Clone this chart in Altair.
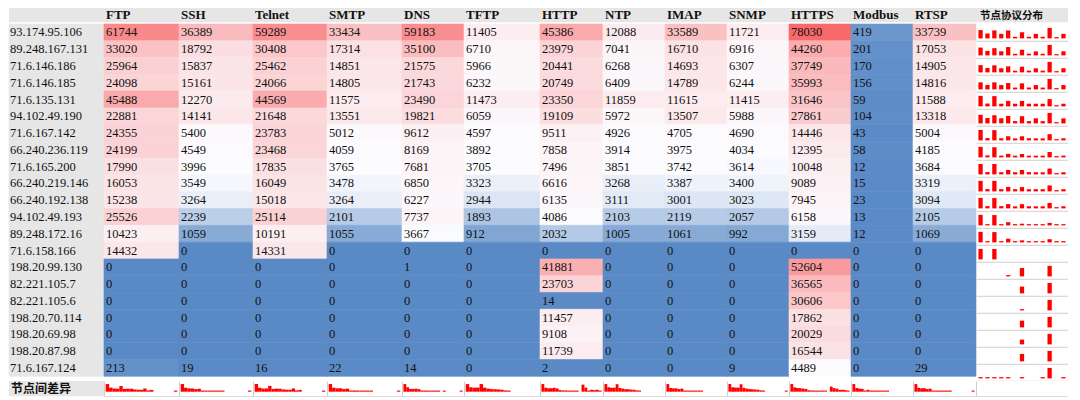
import altair as alt
import numpy as np
import pandas as pd

# ---------------- data ----------------
ips = ["93.174.95.106", "89.248.167.131", "71.6.146.186", "71.6.146.185", "71.6.135.131",
       "94.102.49.190", "71.6.167.142", "66.240.236.119", "71.6.165.200", "66.240.219.146",
       "66.240.192.138", "94.102.49.193", "89.248.172.16", "71.6.158.166", "198.20.99.130",
       "82.221.105.7", "82.221.105.6", "198.20.70.114", "198.20.69.98", "198.20.87.98",
       "71.6.167.124"]
protocols = ["FTP", "SSH", "Telnet", "SMTP", "DNS", "TFTP", "HTTP", "NTP", "IMAP",
             "SNMP", "HTTPS", "Modbus", "RTSP"]

ftp = [61744, 33020, 25964, 24098, 45488, 22881, 24355, 24199, 17990, 16053, 15238, 25526, 10423, 14432, 0, 0, 0, 0, 0, 0, 213]
ssh = [36389, 18792, 15837, 15161, 12270, 14141, 5400, 4549, 3996, 3549, 3264, 2239, 1059, 0, 0, 0, 0, 0, 0, 0, 19]
telnet = [59289, 30408, 25462, 24066, 44569, 21648, 23783, 23468, 17835, 16049, 15018, 25114, 10191, 14331, 0, 0, 0, 0, 0, 0, 16]
smtp = [33434, 17314, 14851, 14805, 11575, 13551, 5012, 4059, 3765, 3478, 3264, 2101, 1055, 0, 0, 0, 0, 0, 0, 0, 22]
dns = [59183, 35100, 21575, 21743, 23490, 19821, 9612, 8169, 7681, 6850, 6227, 7737, 3667, 0, 1, 0, 0, 0, 0, 0, 14]
tftp = [11405, 6710, 5966, 6232, 11473, 6059, 4597, 3892, 3705, 3323, 2944, 1893, 912, 0, 0, 0, 0, 0, 0, 0, 0]
http = [45386, 23979, 20441, 20749, 23350, 19109, 9511, 7858, 7496, 6616, 6135, 4086, 2032, 0, 41881, 23703, 14, 11457, 9108, 11739, 2]
ntp = [12088, 7041, 6268, 6409, 11859, 5972, 4926, 3914, 3851, 3268, 3111, 2103, 1005, 0, 0, 0, 0, 0, 0, 0, 0]
imap = [33589, 16710, 14693, 14789, 11615, 13507, 4705, 3975, 3742, 3387, 3001, 2119, 1061, 0, 0, 0, 0, 0, 0, 0, 0]
snmp = [11721, 6916, 6307, 6244, 11415, 5988, 4690, 4034, 3614, 3400, 3023, 2057, 992, 0, 0, 0, 0, 0, 0, 0, 9]
https = [78030, 44260, 37749, 35993, 31646, 27861, 14446, 12395, 10048, 9089, 7945, 6158, 3159, 0, 52604, 36565, 30606, 17862, 20029, 16544, 4489]
modbus = [419, 201, 170, 156, 59, 104, 43, 58, 12, 15, 23, 13, 12, 0, 0, 0, 0, 0, 0, 0, 0]
rtsp = [33739, 17053, 14905, 14816, 11588, 13318, 5004, 4185, 3684, 3319, 3094, 2105, 1069, 0, 0, 0, 0, 0, 0, 0, 29]

spark_header = "节点协议分布"
footer_label = "节点间差异"
header_names = [""] + protocols + [spark_header]

series = [ftp, ssh, telnet, smtp, dns, tftp, http, ntp, imap, snmp, https, modbus, rtsp]
df = pd.DataFrame([
    {"ip": ip, "protocol": p, "value": v}
    for p, vals in zip(protocols, series) for ip, v in zip(ips, vals)
])
head_df = pd.DataFrame({"name": header_names})
foot_df = pd.DataFrame({"name": [footer_label]})

all_vals = np.concatenate([np.array(s) for s in series])
mid_val = float(np.median(all_vals))
max_val = float(all_vals.max())

# ---------------- layout / style ----------------
SX, SY = 0.98, 0.955
label_w = round(97 * SX)
col_w = [round(w * SX) for w in [77, 75, 76, 77, 63, 78, 64, 63, 63, 63, 63, 63, 64]]
spark_w = round(94 * SX)
head_h = 15 * SY
row_h = 17.57 * SY
foot_h = 16 * SY
body_h = row_h * len(ips)

GRAY = "#E6E6E6"
GRID = "#CFCFCF"
RED = "#FF0000"
SERIF = "Liberation Serif"
CJK = "Noto Sans CJK SC"
TXT = "#111111"

band0 = alt.Scale(paddingInner=0, paddingOuter=0)
color_scale = alt.Scale(type="linear", domain=[0, mid_val, max_val],
                        range=["#5A8AC6", "#FCFCFF", "#F8696B"], interpolate="rgb")
line_axis = alt.Axis(labels=False, ticks=False, title=None, grid=False,
                     domainColor=GRID, domainWidth=1)

# ---------------- header row ----------------
def header_panel(name, w):
    base = alt.Chart(head_df).transform_filter(alt.datum.name == name)
    bg = base.mark_rect(color=GRAY).encode(x=alt.X("name:N", axis=None, scale=band0))
    if name == "":
        return bg.properties(width=w, height=head_h)
    if name == spark_header:
        txt = base.mark_text(align="left", baseline="middle", dx=4, dy=0.5, font=CJK,
                             fontSize=10.5, fontWeight="bold", color=TXT)
    else:
        txt = base.mark_text(align="left", baseline="middle", dx=2, font=SERIF,
                             fontSize=13, fontWeight="bold", color=TXT)
    txt = txt.encode(x=alt.X("name:N", axis=None, scale=band0, bandPosition=0),
                     text="name:N")
    return alt.layer(bg, txt).properties(width=w, height=head_h)

header_row = alt.hconcat(
    *([header_panel("", label_w)]
      + [header_panel(p, w) for p, w in zip(protocols, col_w)]
      + [header_panel(spark_header, spark_w)]),
    spacing=0, bounds="flush")

# ---------------- body row ----------------
y_ip = alt.Y("ip:N", sort=ips, axis=None, scale=band0)

label_base = alt.Chart(df).transform_filter(alt.datum.protocol == protocols[0])
label_panel = alt.layer(
    label_base.mark_rect(color=GRAY, stroke=GRAY, strokeWidth=0.6).encode(
        x=alt.X("protocol:N", axis=None, scale=band0), y=y_ip),
    label_base.mark_text(align="left", baseline="middle", dx=1, font=SERIF,
                         fontSize=12.5, color=TXT).encode(
        x=alt.X("protocol:N", axis=None, scale=band0, bandPosition=0),
        y=y_ip, text="ip:N"),
).properties(width=label_w, height=body_h)

def body_panel(p, w):
    base = alt.Chart(df).transform_filter(alt.datum.protocol == p)
    cells = base.mark_rect(strokeWidth=0.6).encode(
        x=alt.X("protocol:N", axis=None, scale=band0), y=y_ip,
        color=alt.Color("value:Q", scale=color_scale, legend=None),
        stroke=alt.Stroke("value:Q", scale=color_scale, legend=None))
    txt = base.mark_text(align="left", baseline="middle", dx=2, font=SERIF,
                         fontSize=12.5, color=TXT).encode(
        x=alt.X("protocol:N", axis=None, scale=band0, bandPosition=0),
        y=y_ip, text=alt.Text("value:Q", format="d"))
    return alt.layer(cells, txt).properties(width=w, height=body_h)

spark_col = alt.Chart(df).transform_joinaggregate(
    rowmax="max(value)", groupby=["ip"]
).transform_filter("datum.value > 0").transform_calculate(
    r="max(datum.value / datum.rowmax, 0.12)"
).mark_bar(color=RED).encode(
    x=alt.X("protocol:N", sort=protocols, axis=line_axis,
            scale=alt.Scale(domain=protocols, paddingInner=0.38, paddingOuter=0.35)),
    y=alt.Y("r:Q", axis=None, stack=None, scale=alt.Scale(domain=[-0.227, 1.37])),
).properties(width=spark_w, height=row_h).facet(
    row=alt.Row("ip:N", sort=ips, header=None), spacing=0, bounds="flush"
).resolve_axis(x="independent")

body_row = alt.hconcat(
    *([label_panel] + [body_panel(p, w) for p, w in zip(protocols, col_w)] + [spark_col]),
    spacing=0, bounds="flush")

# ---------------- footer row ----------------
foot_label = alt.layer(
    alt.Chart(foot_df).mark_rect(color=GRAY).encode(
        x=alt.X("name:N", axis=None, scale=band0)),
    alt.Chart(foot_df).mark_text(align="left", baseline="middle", dx=2, font=CJK,
                                 fontSize=12, fontWeight="bold", color=TXT).encode(
        x=alt.X("name:N", axis=None, scale=band0, bandPosition=0), text="name:N"),
).properties(width=label_w, height=foot_h)

def foot_panel(p, w):
    return alt.Chart(df).transform_filter(alt.datum.protocol == p).transform_joinaggregate(
        colmax="max(value)"
    ).transform_filter("datum.value > 0").transform_calculate(
        r="max(datum.value / datum.colmax, 0.15)"
    ).mark_bar(color=RED).encode(
        x=alt.X("ip:N", axis=line_axis,
                scale=alt.Scale(domain=ips, paddingInner=0, paddingOuter=0.5)),
        y=alt.Y("r:Q", axis=line_axis, stack=None, scale=alt.Scale(domain=[-0.6, 1.4])),
    ).properties(width=w, height=foot_h)

foot_blank = alt.Chart(foot_df).mark_rect(color="white").encode(
    x=alt.X("name:N", axis=line_axis, scale=band0),
    y=alt.Y("name:N", axis=line_axis, scale=band0),
).properties(width=spark_w, height=foot_h)

foot_row = alt.hconcat(
    *([foot_label] + [foot_panel(p, w) for p, w in zip(protocols, col_w)] + [foot_blank]),
    spacing=0, bounds="flush")

chart = alt.vconcat(header_row, body_row, foot_row, spacing=0).properties(
    padding=0
).configure_view(stroke=None).configure_concat(spacing=0).configure_facet(spacing=0)

chart.save("out.html", embed_options={"renderer": "svg", "actions": False})
